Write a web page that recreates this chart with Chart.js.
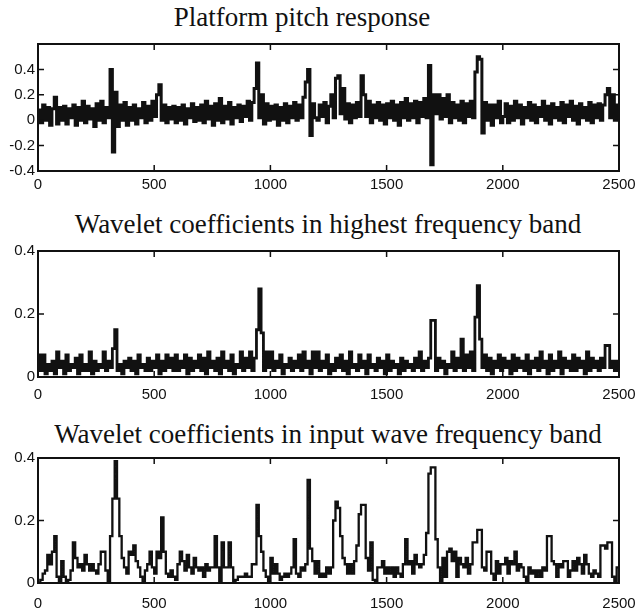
<!DOCTYPE html>
<html>
<head>
<meta charset="utf-8">
<script src="https://cdn.jsdelivr.net/npm/chart.js@4.4.1/dist/chart.umd.min.js"></script>
<style>
  html, body { margin: 0; padding: 0; background: #fff; }
  #page { position: relative; width: 640px; height: 609px; overflow: hidden; }
  .panel-title {
    position: absolute;
    transform: translateX(-50%);
    white-space: nowrap;
    font-family: "Liberation Serif", "Times New Roman", serif;
    font-size: 27px;
    line-height: 27px;
    color: #111;
  }
  canvas { position: absolute; left: 0; }
</style>
</head>
<body>
<div id="page">
  <div class="panel-title" style="left:302px; top:4px">Platform pitch response</div>
  <div class="panel-title" style="left:328px; top:211px">Wavelet coefficients in highest frequency band</div>
  <div class="panel-title" style="left:328px; top:421px">Wavelet coefficients in input wave frequency band</div>
  <canvas id="pitch" width="640" height="159" style="top:34px"></canvas>
  <canvas id="highband" width="640" height="160" style="top:241px"></canvas>
  <canvas id="waveband" width="640" height="161" style="top:448px"></canvas>
</div>
<script>
// 샘플 간격 (x 축 단위)
const sampleStep = 10;

const xTicks = [0, 500, 1000, 1500, 2000, 2500];
const pitchTicks = [-0.4, -0.2, 0, 0.2, 0.4];
const bandTicks = [0, 0.2, 0.4];

// Platform pitch response, x = 0..2500 step 10
const pitchValues = [
  0.08, -0.02, 0.12, 0.0, 0.1, -0.04, 0.09, 0.18, -0.03, 0.1,
  0.0, 0.11, -0.03, 0.09, 0.02, 0.12, -0.04, 0.1, 0.0, 0.15,
  -0.02, 0.11, 0.01, 0.09, -0.05, 0.13, 0.0, 0.15, -0.02, 0.1,
  0.02, 0.4, -0.25, 0.22, -0.05, 0.12, 0.0, 0.14, -0.04, 0.1,
  0.0, 0.12, -0.03, 0.09, 0.02, 0.14, -0.02, 0.11, 0.0, 0.15,
  0.03, 0.2, 0.28, 0.0, 0.12, -0.02, 0.1, 0.01, 0.11, -0.02,
  0.1, 0.0, 0.12, -0.03, 0.09, 0.02, 0.13, -0.01, 0.1, 0.0,
  0.12, -0.02, 0.15, 0.01, 0.11, -0.04, 0.13, 0.0, 0.17, -0.02,
  0.11, 0.01, 0.14, -0.03, 0.1, 0.02, 0.12, -0.01, 0.11, 0.03,
  0.15, 0.0, 0.14, 0.25, 0.45, 0.02, 0.2, -0.03, 0.13, 0.0,
  0.11, 0.01, 0.12, -0.04, 0.1, 0.0, 0.13, -0.02, 0.11, 0.02,
  0.14, 0.0, 0.12, 0.02, 0.18, 0.3, 0.4, -0.12, 0.13, 0.02,
  0.0, 0.12, 0.03, 0.14, -0.02, 0.11, 0.2, 0.02, 0.33, 0.35,
  0.05, 0.25, 0.01, 0.13, -0.02, 0.12, 0.02, 0.14, 0.03, 0.35,
  0.2, 0.03, 0.15, -0.02, 0.12, 0.02, 0.14, 0.0, 0.12, -0.03,
  0.13, 0.02, 0.15, 0.0, 0.12, -0.04, 0.14, 0.02, 0.17, 0.0,
  0.13, 0.02, 0.15, -0.02, 0.14, 0.03, 0.17, 0.02, 0.43, -0.35,
  0.2, 0.05, 0.2, 0.01, 0.17, 0.03, 0.2, -0.02, 0.14, 0.02,
  0.12, 0.0, 0.15, -0.02, 0.13, 0.03, 0.15, 0.02, 0.38, 0.5,
  0.48, -0.1, 0.14, 0.0, 0.12, -0.04, 0.12, 0.02, 0.15, -0.02,
  0.03, 0.13, -0.02, 0.11, 0.0, 0.15, 0.02, 0.12, -0.03, 0.1,
  0.02, 0.14, 0.0, 0.12, -0.02, 0.1, 0.03, 0.15, 0.0, 0.11,
  -0.03, 0.13, 0.02, 0.1, 0.0, 0.14, -0.02, 0.12, 0.03, 0.15,
  0.0, 0.11, -0.03, 0.13, 0.02, 0.1, 0.0, 0.14, -0.02, 0.12,
  0.02, 0.13, 0.0, 0.12, 0.2, 0.25, 0.02, 0.2, 0.0, 0.12, 0.05
];

// Wavelet coefficients, highest frequency band
const highBandValues = [
  0.07, 0.02, 0.07, 0.01, 0.04, 0.02, 0.05, 0.01, 0.08, 0.03,
  0.05, 0.01, 0.07, 0.02, 0.04, 0.03, 0.06, 0.01, 0.07, 0.02,
  0.04, 0.02, 0.08, 0.01, 0.05, 0.02, 0.04, 0.03, 0.08, 0.02,
  0.05, 0.03, 0.09, 0.15, 0.02, 0.04, 0.01, 0.05, 0.03, 0.06,
  0.02, 0.05, 0.01, 0.07, 0.03, 0.04, 0.02, 0.06, 0.02, 0.05,
  0.03, 0.07, 0.01, 0.05, 0.02, 0.07, 0.03, 0.06, 0.02, 0.07,
  0.02, 0.05, 0.03, 0.07, 0.01, 0.06, 0.02, 0.05, 0.03, 0.07,
  0.02, 0.06, 0.01, 0.08, 0.03, 0.05, 0.02, 0.06, 0.01, 0.08,
  0.03, 0.05, 0.02, 0.07, 0.01, 0.04, 0.03, 0.08, 0.02, 0.06,
  0.03, 0.08, 0.02, 0.06, 0.15, 0.28, 0.14, 0.02, 0.08, 0.03,
  0.08, 0.02, 0.05, 0.03, 0.07, 0.01, 0.04, 0.03, 0.06, 0.02,
  0.05, 0.03, 0.07, 0.02, 0.08, 0.03, 0.05, 0.01, 0.08, 0.03,
  0.08, 0.02, 0.05, 0.03, 0.07, 0.01, 0.04, 0.02, 0.06, 0.03,
  0.07, 0.02, 0.05, 0.01, 0.08, 0.03, 0.04, 0.02, 0.07, 0.03,
  0.05, 0.01, 0.07, 0.03, 0.04, 0.02, 0.06, 0.03, 0.05, 0.01,
  0.07, 0.02, 0.05, 0.03, 0.04, 0.01, 0.06, 0.02, 0.05, 0.03,
  0.04, 0.02, 0.06, 0.03, 0.08, 0.02, 0.05, 0.03, 0.06, 0.18,
  0.18, 0.02, 0.06, 0.03, 0.05, 0.01, 0.04, 0.03, 0.08, 0.02,
  0.06, 0.03, 0.12, 0.02, 0.07, 0.03, 0.08, 0.02, 0.19, 0.29,
  0.12, 0.03, 0.07, 0.02, 0.06, 0.01, 0.05, 0.03, 0.07, 0.02,
  0.06, 0.03, 0.05, 0.01, 0.07, 0.02, 0.06, 0.03, 0.05, 0.02,
  0.07, 0.01, 0.05, 0.03, 0.06, 0.02, 0.08, 0.03, 0.05, 0.01,
  0.07, 0.02, 0.05, 0.03, 0.08, 0.01, 0.06, 0.03, 0.05, 0.02,
  0.07, 0.02, 0.06, 0.03, 0.05, 0.01, 0.08, 0.02, 0.06, 0.03,
  0.05, 0.02, 0.06, 0.03, 0.1, 0.1, 0.03, 0.05, 0.02, 0.05, 0.05
];

// Wavelet coefficients, input wave frequency band
const waveBandValues = [
  0.0, 0.01, 0.03, 0.04, 0.09, 0.06, 0.1, 0.15, 0.02, 0.0,
  0.07, 0.02, 0.0, 0.01, 0.04, 0.13, 0.08, 0.05, 0.06, 0.04,
  0.09, 0.06, 0.04, 0.06, 0.04, 0.03, 0.06, 0.1, 0.1, 0.04,
  0.0, 0.15, 0.27, 0.39, 0.27, 0.15, 0.08, 0.05, 0.03, 0.1,
  0.09, 0.12, 0.07, 0.05, 0.02, 0.0, 0.04, 0.06, 0.1, 0.05,
  0.03, 0.1, 0.08, 0.21, 0.1, 0.03, 0.02, 0.04, 0.02, 0.01,
  0.06, 0.1, 0.07, 0.04, 0.09, 0.05, 0.03, 0.08, 0.05, 0.04,
  0.05, 0.02, 0.06, 0.04, 0.05, 0.05, 0.15, 0.05, 0.0, 0.13,
  0.05, 0.05, 0.13, 0.05, 0.0, 0.01, 0.02, 0.02, 0.02, 0.03,
  0.02, 0.02, 0.06, 0.06, 0.25, 0.15, 0.1, 0.04, 0.02, 0.0,
  0.08, 0.03, 0.06, 0.03, 0.01, 0.02, 0.03, 0.02, 0.03, 0.05,
  0.14, 0.03, 0.02, 0.05, 0.04, 0.06, 0.33, 0.11, 0.07, 0.03,
  0.07, 0.02, 0.03, 0.02, 0.05, 0.03, 0.05, 0.2, 0.26, 0.24,
  0.15, 0.08, 0.06, 0.03, 0.06, 0.03, 0.07, 0.12, 0.22, 0.25,
  0.25, 0.08, 0.04, 0.13, 0.01, 0.0, 0.05, 0.05, 0.07, 0.03,
  0.05, 0.03, 0.05, 0.02, 0.05, 0.03, 0.02, 0.06, 0.14, 0.06,
  0.07, 0.03, 0.09, 0.06, 0.05, 0.06, 0.09, 0.16, 0.35, 0.37,
  0.37, 0.14, 0.05, 0.0, 0.08, 0.02, 0.1, 0.11, 0.07, 0.1,
  0.02, 0.08, 0.06, 0.05, 0.08, 0.03, 0.06, 0.13, 0.13, 0.17,
  0.17, 0.05, 0.04, 0.1, 0.1, 0.03, 0.01, 0.07, 0.03, 0.06,
  0.06, 0.08, 0.03, 0.07, 0.06, 0.1, 0.04, 0.06, 0.05, 0.02,
  0.0, 0.05, 0.03, 0.04, 0.02, 0.04, 0.02, 0.05, 0.04, 0.15,
  0.15, 0.07, 0.06, 0.02, 0.06, 0.05, 0.07, 0.07, 0.02, 0.04,
  0.07, 0.04, 0.08, 0.06, 0.03, 0.09, 0.06, 0.03, 0.02, 0.04,
  0.03, 0.02, 0.12, 0.12, 0.11, 0.13, 0.13, 0.02, 0.0, 0.05, 0.05
];

(function () {
  "use strict";

  Chart.defaults.font.family = "'Liberation Sans', Arial, sans-serif";
  Chart.defaults.font.size = 15;
  Chart.defaults.color = "#111";

  const ink = "#111";

  // 프레임 + 안쪽으로 향하는 눈금 (MATLAB 스타일)
  const framePlugin = {
    id: "frame",
    afterDatasetsDraw(chart) {
      const { ctx, chartArea: a, scales } = chart;
      const len = 6;
      ctx.save();
      ctx.strokeStyle = ink;
      ctx.lineWidth = 2;
      ctx.strokeRect(a.left, a.top, a.right - a.left, a.bottom - a.top);
      ctx.lineWidth = 1.5;
      ctx.beginPath();
      scales.x.ticks.forEach((t) => {
        const px = scales.x.getPixelForValue(t.value);
        if (px <= a.left + 1 || px >= a.right - 1) return;
        ctx.moveTo(px, a.top);
        ctx.lineTo(px, a.top + len);
        ctx.moveTo(px, a.bottom);
        ctx.lineTo(px, a.bottom - len);
      });
      scales.y.ticks.forEach((t) => {
        const py = scales.y.getPixelForValue(t.value);
        if (py <= a.top + 1 || py >= a.bottom - 1) return;
        ctx.moveTo(a.left, py);
        ctx.lineTo(a.left + len, py);
        ctx.moveTo(a.right, py);
        ctx.lineTo(a.right - len, py);
      });
      ctx.stroke();
      ctx.restore();
    },
  };

  function toPoints(values) {
    return values.map((v, i) => ({ x: i * sampleStep, y: v }));
  }

  function fmt(v) {
    if (v === 0) return "0";
    return v.toFixed(1);
  }

  function makeChart(id, values, opts) {
    const canvas = document.getElementById(id);
    return new Chart(canvas.getContext("2d"), {
      type: "line",
      data: {
        datasets: [
          {
            data: toPoints(values),
            borderColor: ink,
            borderWidth: opts.lineWidth,
            pointRadius: 0,
            stepped: true,
            tension: 0,
            fill: false,
          },
        ],
      },
      options: {
        responsive: false,
        animation: false,
        devicePixelRatio: 1,
        layout: { padding: { top: 10, left: 0, right: 21, bottom: 0 } },
        plugins: {
          legend: { display: false },
          tooltip: { enabled: false },
          title: { display: false },
        },
        scales: {
          x: {
            type: "linear",
            min: 0,
            max: 2500,
            grid: { display: false, drawTicks: false },
            border: { display: false },
            ticks: { padding: opts.xPad, maxRotation: 0, callback: (v) => String(v) },
            afterBuildTicks: (s) => {
              s.ticks = xTicks.map((v) => ({ value: v }));
            },
            afterFit: (s) => {
              s.height = opts.xHeight;
              s.paddingLeft = 0;
              s.paddingRight = 0;
            },
          },
          y: {
            min: opts.yMin,
            max: opts.yMax,
            grid: { display: false, drawTicks: false },
            border: { display: false },
            ticks: { padding: 3, callback: (v) => fmt(v) },
            afterBuildTicks: (s) => {
              s.ticks = opts.yTicks.map((v) => ({ value: v }));
            },
            afterFit: (s) => {
              s.width = 38;
              s.paddingTop = 0;
              s.paddingBottom = 0;
            },
          },
        },
      },
      plugins: [framePlugin],
    });
  }

  makeChart("pitch", pitchValues, {
    yMin: -0.4, yMax: 0.6, yTicks: pitchTicks,
    lineWidth: 3, xPad: 5, xHeight: 22,
  });
  makeChart("highband", highBandValues, {
    yMin: 0, yMax: 0.4, yTicks: bandTicks,
    lineWidth: 2.8, xPad: 9, xHeight: 24,
  });
  makeChart("waveband", waveBandValues, {
    yMin: 0, yMax: 0.4, yTicks: bandTicks,
    lineWidth: 2.3, xPad: 12, xHeight: 26,
  });
})();
</script>
</body>
</html>
